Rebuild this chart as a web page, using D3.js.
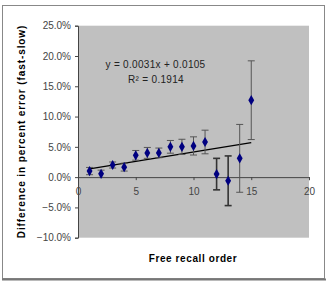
<!DOCTYPE html>
<html>
<head>
<meta charset="utf-8">
<script src="https://cdn.jsdelivr.net/npm/d3@7"></script>
<style>
  body { margin: 0; background: #fff; }
  #chart { width: 327px; height: 283px; }
  text { font-family: "Liberation Sans", Arial, sans-serif; }
</style>
</head>
<body>
<div id="chart"></div>
<script>
// data
const recallOrder = [1, 2, 3, 4, 5, 6, 7, 8, 9, 10, 11, 12, 13, 14, 15];
const diffError   = [0.010, 0.0055, 0.020, 0.0165, 0.036, 0.040, 0.040, 0.050, 0.050, 0.0515, 0.058, 0.005, -0.006, 0.031, 0.127];
const errBar      = [0.006, 0.006, 0.005, 0.0065, 0.008, 0.009, 0.008, 0.0105, 0.0125, 0.015, 0.0195, 0.026, 0.041, 0.056, 0.065];
const yTicks      = [-0.10, -0.05, 0, 0.05, 0.10, 0.15, 0.20, 0.25];
const xTicks      = [0, 5, 10, 15, 20];
const trendSlope  = 0.0031;
const trendInt    = 0.0105;
const eqLines     = ["y = 0.0031x + 0.0105", "R² = 0.1914"];

const data = recallOrder.map((x, i) => ({ x, y: diffError[i], e: errBar[i] }));

const W = 327, H = 283;
const svg = d3.select("#chart").append("svg")
  .attr("width", W).attr("height", H);

// outer frame
svg.append("rect")
  .attr("x", 2.5).attr("y", 5.5).attr("width", 322).attr("height", 273)
  .attr("fill", "#fff").attr("stroke", "#888").attr("stroke-width", 1);
svg.append("line")
  .attr("x1", 2).attr("x2", 326).attr("y1", 279.5).attr("y2", 279.5)
  .attr("stroke", "#777").attr("stroke-width", 2);

// plot area
const pLeft = 78, pRight = 309, pTop = 25.7, pBottom = 237.7;

const x = d3.scaleLinear().domain([0, 20]).range([pLeft, pRight]);
const y = d3.scaleLinear().domain([-0.10, 0.25]).range([pBottom, pTop]);

svg.append("rect")
  .attr("x", pLeft).attr("y", pTop)
  .attr("width", pRight - pLeft).attr("height", pBottom - pTop)
  .attr("fill", "#c0c0c0");

// y axis
const yAxis = svg.append("g")
  .attr("transform", `translate(${pLeft},0)`)
  .call(d3.axisLeft(y).tickValues(yTicks).tickSize(3).tickPadding(4)
    .tickFormat(d3.format(".1%")));
yAxis.select(".domain").attr("stroke", "#444");
yAxis.selectAll(".tick line").attr("stroke", "#444");
yAxis.selectAll("text")
  .attr("font-size", "10px")
  .attr("fill", "#444")
  .attr("font-family", "'Liberation Sans', Arial, sans-serif");

// x axis at y = 0
const xAxis = svg.append("g")
  .attr("transform", `translate(0,${y(0)})`)
  .call(d3.axisBottom(x).tickValues(xTicks).tickSize(3).tickPadding(8));
xAxis.select(".domain").attr("stroke", "#444");
xAxis.selectAll(".tick line").attr("stroke", "#444");
xAxis.selectAll("text")
  .attr("font-size", "10px")
  .attr("fill", "#444")
  .attr("font-family", "'Liberation Sans', Arial, sans-serif");

// trend line
svg.append("line")
  .attr("x1", x(recallOrder[0]))
  .attr("y1", y(trendSlope * recallOrder[0] + trendInt))
  .attr("x2", x(recallOrder[recallOrder.length - 1]))
  .attr("y2", y(trendSlope * recallOrder[recallOrder.length - 1] + trendInt))
  .attr("stroke", "#000").attr("stroke-width", 1.3);

// error bars
const eb = svg.selectAll(".err").data(data).enter().append("g")
  .attr("class", "err")
  .attr("stroke", (d, i) => (i === 11 || i === 12) ? "#333" : "#555")
  .attr("stroke-width", (d, i) => (i === 11 || i === 12) ? 1.6 : 1);
eb.append("line")
  .attr("x1", d => x(d.x)).attr("x2", d => x(d.x))
  .attr("y1", d => y(d.y - d.e)).attr("y2", d => y(d.y + d.e));
eb.append("line")
  .attr("x1", d => x(d.x) - 3.5).attr("x2", d => x(d.x) + 3.5)
  .attr("y1", d => y(d.y + d.e)).attr("y2", d => y(d.y + d.e));
eb.append("line")
  .attr("x1", d => x(d.x) - 3.5).attr("x2", d => x(d.x) + 3.5)
  .attr("y1", d => y(d.y - d.e)).attr("y2", d => y(d.y - d.e));

// markers
svg.selectAll(".pt").data(data).enter().append("path")
  .attr("class", "pt")
  .attr("d", d3.symbol().type(d3.symbolDiamond).size(30))
  .attr("transform", d => `translate(${x(d.x)},${y(d.y)})`)
  .attr("fill", "#000080");

// equation
svg.append("text")
  .attr("x", 155.5).attr("y", 67.5)
  .attr("text-anchor", "middle")
  .attr("font-size", "10px").attr("fill", "#222")
  .attr("letter-spacing", "0.3px")
  .text(eqLines[0]);
svg.append("text")
  .attr("x", 156).attr("y", 83)
  .attr("text-anchor", "middle")
  .attr("font-size", "10px").attr("fill", "#222")
  .attr("letter-spacing", "0.3px")
  .text(eqLines[1]);

// axis titles
svg.append("text")
  .attr("transform", `translate(25,131.5) rotate(-90)`)
  .attr("text-anchor", "middle")
  .attr("font-size", "10px").attr("font-weight", "bold")
  .attr("letter-spacing", "0.9px")
  .text("Difference in percent error (fast-slow)");
svg.append("text")
  .attr("x", 193).attr("y", 262)
  .attr("text-anchor", "middle")
  .attr("font-size", "10px").attr("font-weight", "bold")
  .attr("letter-spacing", "0.6px")
  .text("Free recall order");
</script>
</body>
</html>
